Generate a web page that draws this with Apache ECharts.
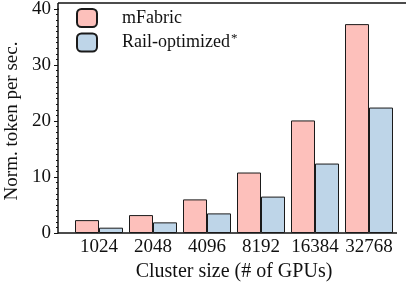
<!DOCTYPE html>
<html>
<head>
<meta charset="utf-8">
<script src="https://cdn.jsdelivr.net/npm/echarts@6/dist/echarts.min.js"></script>
<style>
  html, body { margin: 0; padding: 0; background: #fff; }
  #chart { width: 406px; height: 282px; }
</style>
</head>
<body>
<div id="chart"></div>
<script>
  // cluster sizes and normalized throughput
  var clusterSizes = ['1024', '2048', '4096', '8192', '16384', '32768'];
  var mFabric = [2.3, 3.2, 6.0, 10.8, 20.1, 37.3];
  var railOptimized = [0.95, 1.9, 3.5, 6.5, 12.4, 22.4];
  var yTicks = [0, 10, 20, 30, 40];

  var FONT = '"Liberation Serif", "DejaVu Serif", serif';
  var chart = echarts.init(document.getElementById('chart'));

  var option = {
    animation: false,
    textStyle: { fontFamily: FONT },
    grid: { left: 72, right: 10, top: 9, bottom: 49, outerBoundsMode: 'none', containLabel: false },
    legend: {
      left: 71, top: 3, orient: 'vertical',
      itemWidth: 20, itemHeight: 18, itemGap: 4,
      icon: 'roundRect',
      textStyle: {
        fontFamily: FONT, fontSize: 18, color: '#111', padding: [0, 0, 0, 20],
        rich: {
          a: { fontFamily: FONT, fontSize: 18, color: '#111' },
          s: { fontFamily: FONT, fontSize: 13, color: '#111', verticalAlign: 'top', padding: [0, 0, 8, 1] }
        }
      },
      formatter: function (name) {
        return name === 'Rail-optimized' ? '{a|Rail-optimized}{s|*}' : '{a|' + name + '}';
      },
      data: ['mFabric', 'Rail-optimized']
    },
    xAxis: {
      type: 'category',
      data: clusterSizes,
      axisLine: { show: false },
      axisTick: { show: false },
      axisLabel: { color: '#111', fontSize: 19, fontFamily: FONT, margin: 5, interval: 0 },
      name: 'Cluster size (# of GPUs)',
      nameLocation: 'middle',
      nameGap: 22,
      nameTextStyle: { color: '#111', fontSize: 20, fontFamily: FONT }
    },
    yAxis: {
      type: 'value',
      min: yTicks[0], max: yTicks[yTicks.length - 1], interval: 10,
      offset: 14,
      splitLine: { show: false },
      axisLine: { show: true, lineStyle: { color: '#111', width: 1.5 } },
      axisTick: { show: true, length: 4, lineStyle: { color: '#111', width: 1 } },
      minorTick: { show: true, splitNumber: 10, length: 2, lineStyle: { color: '#111', width: 1 } },
      axisLabel: { color: '#111', fontSize: 19, fontFamily: FONT, margin: 7 },
      name: 'Norm. token per sec.',
      nameLocation: 'middle',
      nameGap: 29,
      nameTextStyle: { color: '#111', fontSize: 19, fontFamily: FONT }
    },
    series: [
      {
        name: 'mFabric', type: 'bar', data: mFabric,
        barWidth: 24, barGap: '0%',
        itemStyle: { color: '#fdc0bb', borderColor: '#1a1a1a', borderWidth: 1 }
      },
      {
        name: 'Rail-optimized', type: 'bar', data: railOptimized,
        barWidth: 24, barGap: '0%',
        itemStyle: { color: '#bed5e8', borderColor: '#1a1a1a', borderWidth: 1 }
      }
    ],
    graphic: [
      { type: 'line', shape: { x1: 58, y1: 233, x2: 397, y2: 233 }, style: { stroke: '#111', lineWidth: 1.5 } },
      { type: 'line', shape: { x1: 58, y1: 3, x2: 406, y2: 3 }, style: { stroke: '#111', lineWidth: 1.5 } },
      { type: 'line', shape: { x1: 58, y1: 3, x2: 58, y2: 10 }, style: { stroke: '#111', lineWidth: 1.5 } }
    ]
  };

  chart.setOption(option);
</script>
</body>
</html>
